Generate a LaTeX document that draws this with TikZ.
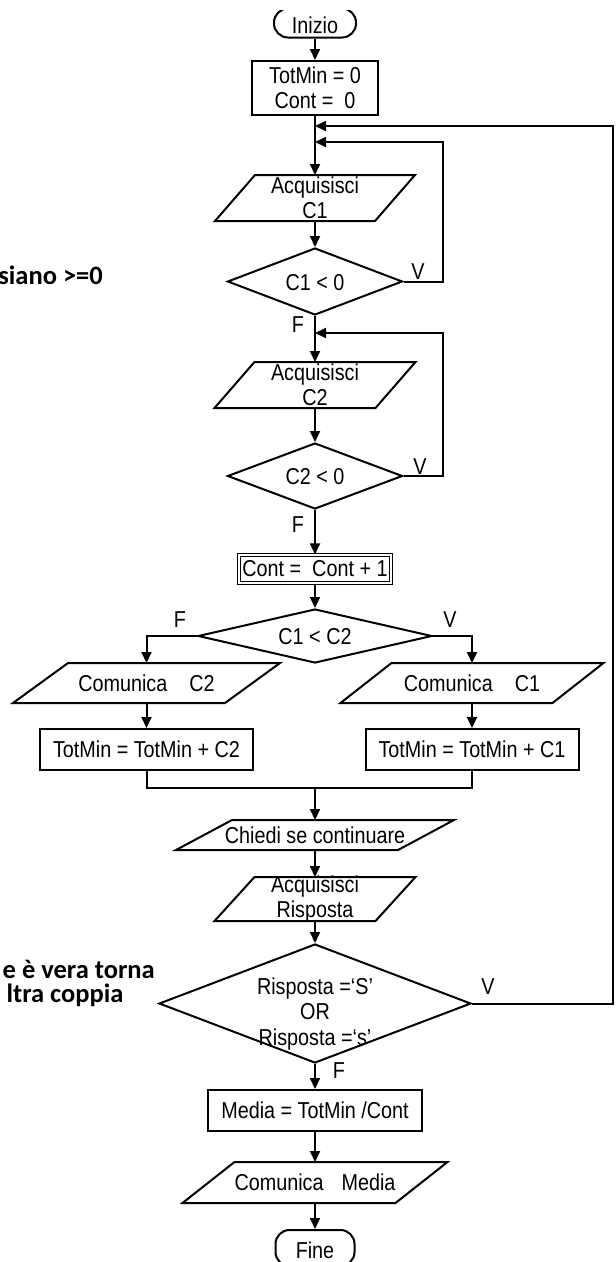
\documentclass[tikz,border=0pt]{standalone}
\usepackage{fontspec}
\setmainfont[FakeStretch=0.86]{Liberation Sans}
\newfontfamily\notefont{Carlito}
\usetikzlibrary{arrows.meta,calc,shapes.geometric}
\tikzset{
  line/.style={line width=2pt},
  arr/.style={line width=2pt,-{Triangle[length=11pt,width=10pt]}},
  procbox/.style={draw,rectangle,line width=2pt,inner sep=0pt},
  dblbox/.style={draw,rectangle,double,double distance=1.6pt,line width=1.1pt,inner sep=0pt},
  decision/.style={draw,diamond,line width=2pt,inner sep=0pt},
  term/.style={draw,rectangle,rounded corners=14pt,line width=2pt,inner sep=0pt},
  note/.style={font=\notefont\bfseries\fontsize{26.5}{30}\selectfont,inner sep=0pt},
  txt/.style={align=center,inner sep=0pt}
}
% #1 name, #2 centre, #3 body width, #4 height, #5 half slant, #6 text
\newcommand\iobox[6]{%
  \node[minimum width=#3,minimum height=#4,inner sep=0pt,outer sep=0pt] (#1) at #2 {};
  \draw[line] ($(#1.north west)+(#5,0)$) -- ($(#1.north east)+(#5,0)$)
     -- ($(#1.south east)-(#5,0)$) -- ($(#1.south west)-(#5,0)$) -- cycle;
  \node[txt] (#1t) at (#1) {#6};
}
\begin{document}
\begin{tikzpicture}[x=1pt,y=-1pt,every node/.style={font=\fontsize{23}{25.5}\selectfont}]
\useasboundingbox (0,0) rectangle (616,1262);
\begin{scope}
\clip (0,10.5) rectangle (616,1262);
% terminals and boxes
\node[term,minimum width=82pt,minimum height=29pt] (start) at (315,23) {};
\node[txt] (startt) at (315,25) {Inizio};
\node[procbox,minimum width=126pt,minimum height=54pt,align=center] (init) at (315,88) {TotMin = 0\\Cont =\ \ 0};
\iobox{p1}{(315,198)}{160pt}{46pt}{20}{Acquisisci\\C1}
\node[decision,minimum width=175pt,minimum height=67pt] (d1) at (315,281.5) {};
\node[txt] (d1t) at (315,283) {C1 < 0};
\iobox{p2}{(315,385)}{161pt}{46pt}{20}{Acquisisci\\C2}
\node[decision,minimum width=175pt,minimum height=66pt] (d2) at (315,476) {};
\node[txt] (d2t) at (315,477) {C2 < 0};
\node[dblbox,minimum width=152pt,minimum height=28pt] (inc) at (315,569) {Cont =\ \ Cont + 1};
\node[decision,minimum width=234pt,minimum height=54pt] (d3) at (315,636) {};
\node[txt] (d3t) at (315,637) {C1 < C2};
\iobox{p3}{(146.5,683)}{212pt}{40pt}{27.5}{Comunica\hspace{22pt}C2}
\iobox{p4}{(472,683)}{212pt}{40pt}{25.5}{Comunica\hspace{22pt}C1}
\node[procbox,minimum width=213pt,minimum height=41pt] (b3) at (146.5,749.5) {TotMin = TotMin + C2};
\node[procbox,minimum width=213pt,minimum height=41pt] (b4) at (472,749.5) {TotMin = TotMin + C1};
\iobox{p5}{(315,835)}{222pt}{30pt}{28}{Chiedi se continuare}
\iobox{p6}{(315,899)}{161pt}{44pt}{20}{Acquisisci\\Risposta}
\node[decision,minimum width=312pt,minimum height=119pt] (d4) at (315,1003.5) {};
\node[txt] (d4t) at (315,1014) {Risposta =‘S’\\OR\\Risposta =‘s’};
\node[procbox,minimum width=214pt,minimum height=41pt] (med) at (315,1110.5) {Media = TotMin /Cont};
\iobox{p7}{(315,1182.5)}{213pt}{41pt}{26}{Comunica\hspace{18pt}Media};
\node[term,minimum width=79pt,minimum height=36pt] (end) at (315,1248) {};
\node[txt] (endt) at (315,1250) {Fine};
% junction points
\coordinate (j1) at (315,126);
\coordinate (j2) at (315,142);
\coordinate (j3) at (315,333);
\coordinate (j4) at (315,788);
\coordinate (r1) at (613,126);
\coordinate (l1) at (443,142);
\coordinate (l2) at (443,333);
% connectors
\draw[arr] (start.south) -- (init.north);
\draw[arr] (init.south) -- (p1.north);
\draw[arr] (p1.south) -- (d1.north);
\draw[arr] (d1.east) -| (l1) -- (j2);
\draw[arr] (d1.south) -- (p2.north);
\draw[arr] (p2.south) -- (d2.north);
\draw[arr] (d2.east) -| (l2) -- (j3);
\draw[arr] (d2.south) -- (inc.north);
\draw[arr] (inc.south) -- (d3.north);
\draw[arr] (d3.west) -| (p3.north);
\draw[arr] (d3.east) -| (p4.north);
\draw[arr] (p3.south) -- (b3.north);
\draw[arr] (p4.south) -- (b4.north);
\draw[line] (b3.south) |- (j4) -| (b4.south);
\draw[arr] (j4) -- (p5.north);
\draw[arr] (p5.south) -- (p6.north);
\draw[arr] (p6.south) -- (d4.north);
\draw[arr] (d4.east) -| (r1) -- (j1);
\draw[arr] (d4.south) -- (med.north);
\draw[arr] (med.south) -- (p7.north);
\draw[arr] (p7.south) -- (end.north);
% branch labels
\node (v1) at (418,272) {V};
\node (f1) at (298,325) {F};
\node (v2) at (420,467) {V};
\node (f2) at (298,525) {F};
\node (f3) at (180,620) {F};
\node (v3) at (450,620) {V};
\node (v4) at (488,987) {V};
\node (f4) at (339,1071) {F};
% side notes
\node[note,anchor=base east] (n1) at (103,284) {siano >=0};
\node[note,anchor=base east] (n2) at (155,978) {e è vera torna};
\node[note,anchor=base] (n3) at (65,1002) {ltra coppia};
\end{scope}
\end{tikzpicture}
\end{document}
